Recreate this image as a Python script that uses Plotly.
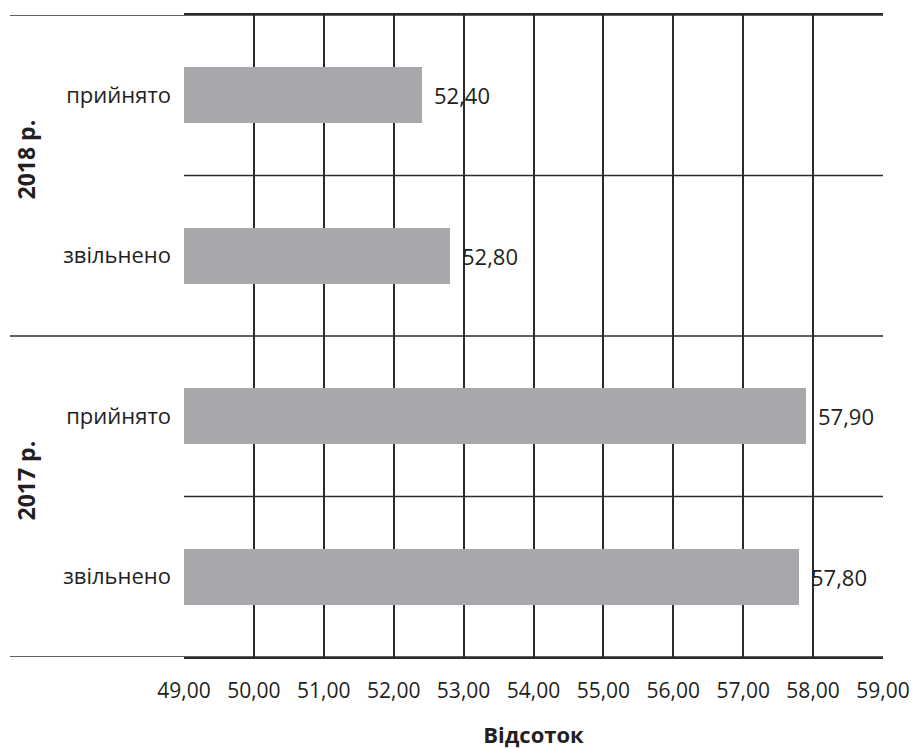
import plotly.graph_objects as go

# Data (bottom to top)
categories = ["звільнено", "прийнято", "звільнено", "прийнято"]
years = ["2017 р.", "2017 р.", "2018 р.", "2018 р."]
values = [57.80, 57.90, 52.80, 52.40]
group_labels = ["2017 р.", "2018 р."]
x_ticks = [49, 50, 51, 52, 53, 54, 55, 56, 57, 58, 59]
x_base = 49

FONT = "Open Sans"
TXT = "#231f20"
LINE = "#2b2b2b"
BAR = "#a7a8ab"

ypos = list(range(len(values)))

fig = go.Figure()
fig.add_trace(go.Bar(
    x=[v - x_base for v in values], y=ypos, orientation="h", width=0.35,
    marker=dict(color=BAR, line=dict(width=0)),
    base=x_base, showlegend=False, hoverinfo="skip",
))

# value labels
for v, yp in zip(values, ypos):
    fig.add_annotation(x=v, y=yp, xref="x", yref="y", text=f"{v:.2f}".replace(".", ","),
                       showarrow=False, xanchor="left", yanchor="middle", xshift=10,
                       font=dict(family=FONT, size=22, color=TXT))

# group labels
for i, g in enumerate(group_labels):
    fig.add_annotation(x=-0.226, y=2 * i + 0.5 + 0.1, xref="paper", yref="y", text=f"<b>{g}</b>",
                       showarrow=False, textangle=-90, xanchor="center", yanchor="middle",
                       font=dict(family=FONT, size=23, color=TXT))

# horizontal divider lines
n = len(values)
for b in range(n + 1):
    yb = b - 0.5
    full = (b % 2 == 0)
    fig.add_shape(type="line", xref="paper", yref="y",
                  x0=-0.249 if full else 0, x1=1, y0=yb, y1=yb,
                  line=dict(color=LINE, width=1.5), layer="above")

fig.update_layout(
    width=914, height=749,
    margin=dict(l=184, r=31, t=15, b=92),
    paper_bgcolor="white", plot_bgcolor="white",
    separators=", ",
    bargap=0,
    font=dict(family=FONT, size=22, color=TXT),
    xaxis=dict(
        range=[49, 59], tickvals=x_ticks, tickformat=".2f", automargin=False,
        showgrid=True, gridcolor=LINE, gridwidth=1.5,
        zeroline=False, showline=True, linecolor=LINE, linewidth=1.5, mirror=True,
        ticks="", ticklabelstandoff=14,
        tickfont=dict(family=FONT, size=21, color=TXT),
        title=dict(text="<b>Відсоток</b>", standoff=30,
                   font=dict(family=FONT, size=22, color=TXT)),
        layer="below traces",
    ),
    yaxis=dict(
        range=[-0.5, n - 0.5], tickvals=ypos, ticktext=categories, automargin=False,
        showgrid=False, zeroline=False, showline=False,
        ticks="", ticklabelstandoff=12,
        tickfont=dict(family=FONT, size=22, color=TXT),
    ),
)

fig.write_html("out.html")
